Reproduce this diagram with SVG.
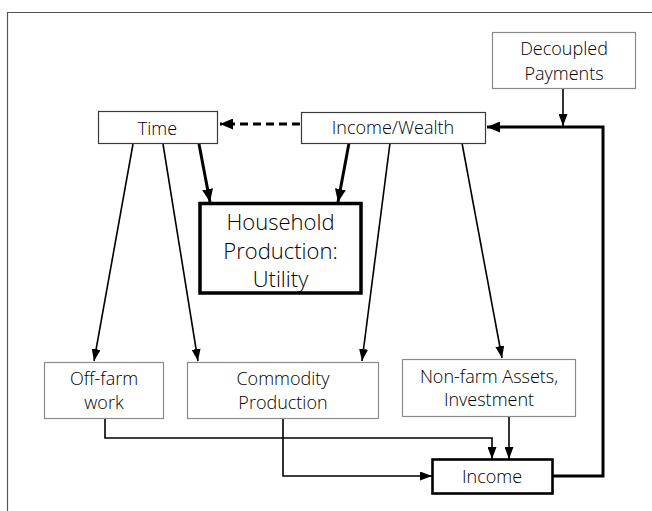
<svg xmlns="http://www.w3.org/2000/svg" width="652" height="511" viewBox="0 0 652 511">
<style>
  text { font-family: "Open Sans", "Noto Sans", "Liberation Sans", sans-serif; font-weight: 350; fill: #000; text-anchor: middle; font-size: 18px; }
  .big { font-size: 22px; }
  .gray { fill: #fff; stroke: #8a8a8a; stroke-width: 1.2; }
  .dark { fill: #fff; stroke: #3a3a3a; stroke-width: 1.2; }
  .c { fill: none; stroke: #000; stroke-width: 1.6; }
  .t { fill: none; stroke: #000; stroke-width: 3; }
</style>
<defs>
  <marker id="a" markerUnits="userSpaceOnUse" markerWidth="12" markerHeight="9" refX="12" refY="4.5" orient="auto">
    <path d="M0,0 L12,4.5 L0,9 z" fill="#000"/>
  </marker>
  <marker id="ab" markerUnits="userSpaceOnUse" markerWidth="13" markerHeight="11" refX="13" refY="5.5" orient="auto">
    <path d="M0,0 L13,5.5 L0,11 z" fill="#000"/>
  </marker>
</defs>
<rect width="652" height="511" fill="#fff"/>
<path d="M652,12.5 H7.5 V511" fill="none" stroke="#555" stroke-width="1.2"/>

<g id="connectors">
  <path class="t" d="M300,124 H220" stroke-dasharray="8,5" marker-end="url(#ab)"/>
  <path class="c" d="M563,88 V126" marker-end="url(#a)"/>
  <path class="t" d="M552,476 H603 V127 H487" marker-end="url(#ab)"/>
  <path class="c" d="M133,144 L94,361" marker-end="url(#a)"/>
  <path class="c" d="M163,144 L198,361" marker-end="url(#a)"/>
  <path class="t" d="M199,144 L210,202" marker-end="url(#ab)"/>
  <path class="t" d="M349,143 L338,202" marker-end="url(#ab)"/>
  <path class="c" d="M390,143 L362,361" marker-end="url(#a)"/>
  <path class="c" d="M462,143 L502,358" marker-end="url(#a)"/>
  <path class="c" d="M105,418 V438 H492 V459" marker-end="url(#a)"/>
  <path class="c" d="M283,418 V476 H432" marker-end="url(#a)"/>
  <path class="c" d="M509,416 V459" marker-end="url(#a)"/>
</g>

<g id="decoupled">
  <rect class="gray" x="492.5" y="32.5" width="143" height="56"/>
  <text x="564" y="55">Decoupled</text>
  <text x="564" y="80">Payments</text>
</g>
<g id="time">
  <rect class="dark" x="98.5" y="111.5" width="119" height="32"/>
  <text x="157.5" y="135">Time</text>
</g>
<g id="income-wealth">
  <rect class="dark" x="301.5" y="112.5" width="184" height="31"/>
  <text x="393" y="134">Income/Wealth</text>
</g>
<g id="household">
  <rect x="200" y="203.5" width="161" height="89.5" fill="#fff" stroke="#000" stroke-width="3.5"/>
  <text class="big" x="280.5" y="229.5">Household</text>
  <text class="big" x="280.5" y="258.5">Production:</text>
  <text class="big" x="280.5" y="286.5">Utility</text>
</g>
<g id="off-farm">
  <rect class="gray" x="44.5" y="362.5" width="119" height="56"/>
  <text x="104" y="385">Off-farm</text>
  <text x="104" y="409">work</text>
</g>
<g id="commodity">
  <rect class="gray" x="187.5" y="362.5" width="191" height="56"/>
  <text x="283" y="385">Commodity</text>
  <text x="283" y="409">Production</text>
</g>
<g id="nonfarm">
  <rect class="gray" x="402.5" y="359.5" width="173" height="57"/>
  <text x="489" y="383">Non-farm Assets,</text>
  <text x="489" y="406">Investment</text>
</g>
<g id="income">
  <rect x="432.5" y="459.5" width="120" height="34" fill="#fff" stroke="#000" stroke-width="2.6"/>
  <text x="492" y="483">Income</text>
</g>
</svg>
